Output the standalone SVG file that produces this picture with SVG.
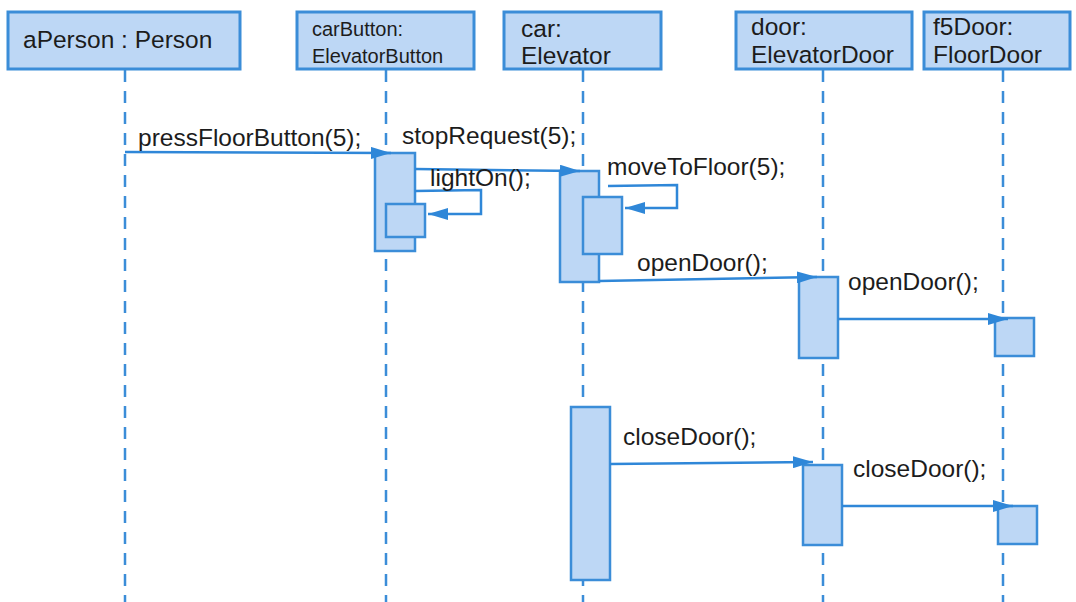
<svg xmlns="http://www.w3.org/2000/svg" width="1076" height="602" viewBox="0 0 1076 602">
<style>
.box{fill:#bdd7f5;stroke:#3b8dd8;stroke-width:3}
.act{fill:#bdd7f5;stroke:#3b8dd8;stroke-width:2.5}
.life{stroke:#3b8dd8;stroke-width:2.5;stroke-dasharray:12 9;fill:none}
.msg{stroke:#2f87d8;stroke-width:2.5;fill:none}
text{font-family:"Liberation Sans",Arial,sans-serif;fill:#1c1c1c}
.t{font-size:24.5px}
.s{font-size:20px}
</style>
<defs>
<marker id="ah" markerUnits="userSpaceOnUse" markerWidth="20" markerHeight="12" refX="20" refY="6" orient="auto">
<path d="M0,0 L20,6 L0,12 z" fill="#2f87d8"/>
</marker>
</defs>
<rect width="1076" height="602" fill="#ffffff"/>
<g id="lifelines">
<line class="life" x1="125" y1="70" x2="125" y2="602"/>
<line class="life" x1="386" y1="70" x2="386" y2="602"/>
<line class="life" x1="583" y1="70" x2="583" y2="602"/>
<line class="life" x1="823" y1="70" x2="823" y2="602"/>
<line class="life" x1="1003" y1="70" x2="1003" y2="602"/>
</g>
<g id="aPerson">
<rect class="box" x="8" y="12" width="232" height="57"/>
<text class="t" x="23" y="48">aPerson : Person</text>
</g>
<g id="carButton">
<rect class="box" x="297" y="12" width="177" height="57"/>
<text class="s" x="312" y="36">carButton:</text>
<text class="s" x="312" y="63">ElevatorButton</text>
</g>
<g id="car">
<rect class="box" x="504" y="12" width="157" height="57"/>
<text class="t" x="521" y="37">car:</text>
<text class="t" x="521" y="64">Elevator</text>
</g>
<g id="door">
<rect class="box" x="736" y="12" width="176" height="57"/>
<text class="t" x="751" y="35">door:</text>
<text class="t" x="751" y="63">ElevatorDoor</text>
</g>
<g id="f5Door">
<rect class="box" x="924" y="12" width="146" height="57"/>
<text class="t" x="933" y="35">f5Door:</text>
<text class="t" x="933" y="63">FloorDoor</text>
</g>
<g id="activations">
<rect class="act" x="375" y="153" width="40" height="98"/>
<rect class="act" x="386" y="204" width="39" height="33"/>
<rect class="act" x="560" y="171" width="39" height="111"/>
<rect class="act" x="583" y="197" width="39" height="57"/>
<rect class="act" x="799" y="277" width="39" height="81"/>
<rect class="act" x="995" y="318" width="39" height="38"/>
<rect class="act" x="571" y="407" width="39" height="173"/>
<rect class="act" x="803" y="465" width="39" height="80"/>
<rect class="act" x="998" y="506" width="39" height="38"/>
</g>
<g id="connectors">
<line class="msg" x1="125" y1="152" x2="391" y2="153" marker-end="url(#ah)"/>
<line class="msg" x1="415" y1="169" x2="580" y2="171" marker-end="url(#ah)"/>
<polyline class="msg" points="415,191 481,190 481,214 428,214" marker-end="url(#ah)"/>
<polyline class="msg" points="608,186 677,185 677,208 625,208" marker-end="url(#ah)"/>
<line class="msg" x1="599" y1="281" x2="817" y2="277" marker-end="url(#ah)"/>
<line class="msg" x1="838" y1="319" x2="1008" y2="319" marker-end="url(#ah)"/>
<line class="msg" x1="610" y1="464" x2="813" y2="462" marker-end="url(#ah)"/>
<line class="msg" x1="842" y1="506" x2="1013" y2="506" marker-end="url(#ah)"/>
</g>
<g id="labels">
<text class="t" x="138" y="146">pressFloorButton(5);</text>
<text class="t" x="402" y="144">stopRequest(5);</text>
<text class="t" x="430" y="186">lightOn();</text>
<text class="t" x="607" y="175">moveToFloor(5);</text>
<text class="t" x="637" y="271">openDoor();</text>
<text class="t" x="848" y="290">openDoor();</text>
<text class="t" x="623" y="445">closeDoor();</text>
<text class="t" x="853" y="477">closeDoor();</text>
</g>
</svg>
